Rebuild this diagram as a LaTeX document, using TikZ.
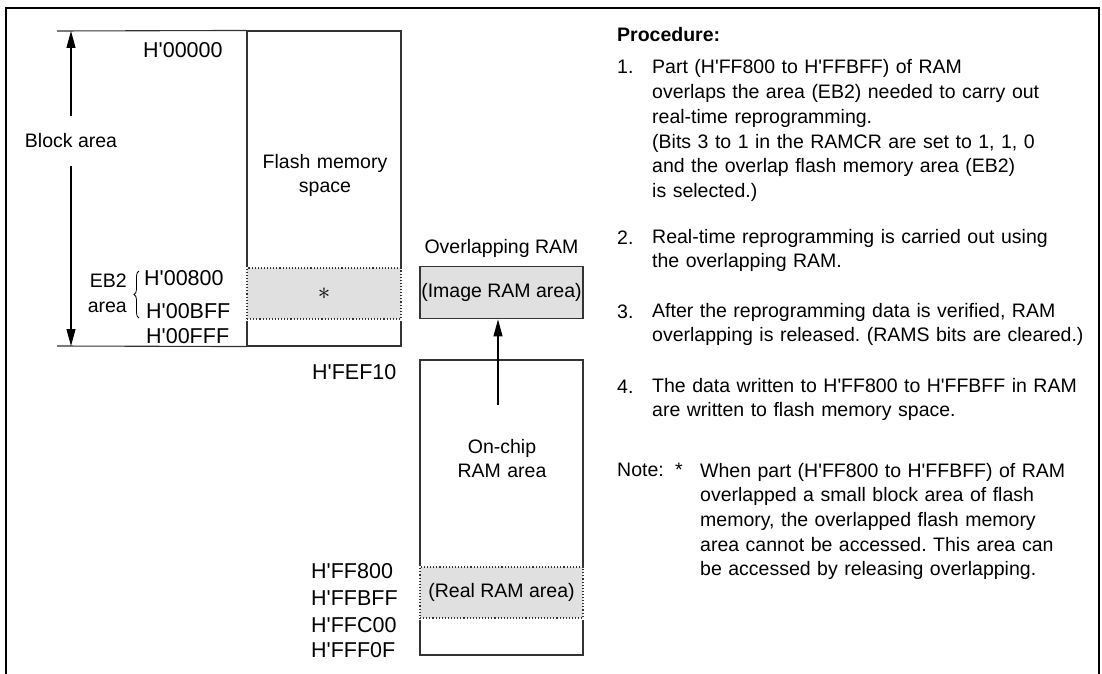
\documentclass[tikz,border=0pt]{standalone}
\usepackage{fontspec}
\setmainfont{Liberation Sans}
\usepackage{tikz}
\usetikzlibrary{arrows.meta, positioning, decorations.pathreplacing}
\definecolor{areagray}{HTML}{E0E0E0}
\definecolor{lineclr}{HTML}{333333}
\newcommand{\haddr}[1]{H\textquotesingle#1}
\frenchspacing
\tikzset{
  mem/.style={rectangle, draw=lineclr, line width=1.1pt, inner sep=0pt, font=\fontsize{19.5}{24.6}\selectfont},
  overlap/.style={rectangle, draw=lineclr, dotted, line width=1.1pt, fill=areagray, inner sep=0pt, font=\fontsize{19.5}{24.6}\selectfont, preaction={draw=white, solid, line width=3pt}},
  memline/.style={draw=lineclr, line width=1.1pt},
  lbl/.style={inner sep=0pt, font=\fontsize{19.5}{24.6}\selectfont},
  addr/.style={inner sep=0pt, anchor=base west, font=\fontsize{21.5}{26}\selectfont},
  proctext/.style={inner sep=0pt, anchor=base west, text width=440pt, align=left, font=\fontsize{19.5}{24.7}\selectfont},
  arr/.style={-{Triangle[length=17pt, width=9pt]}, line width=1.1pt, black},
  brc/.style={decorate, decoration={brace, amplitude=5pt}, line width=0.8pt},
}
\begin{document}
\begin{tikzpicture}[x=1pt, y=-1pt]
\useasboundingbox (0,0) rectangle (1102,674);
% frame, open at the bottom
\draw[line width=2.2pt] (6,674) -- (6,8) -- (1099,8) -- (1099,674);

% flash memory space
\node[mem, minimum width=154pt, minimum height=315pt] (flash) at (324,188.5) {};
\coordinate (tl) at (57,31);
\coordinate (bl) at (57,346);
\draw[memline] (tl) -- (flash.north west);
\draw[memline] (bl) -- (flash.south west);
\node[overlap, minimum width=154pt, minimum height=51pt] (eb2) at (324,293.5) {\fontsize{23}{23}\selectfont$\ast$};
\node[lbl, text width=150pt, align=center, anchor=base] (flashlbl) at (325,168) {Flash memory\\space};

\node[lbl, minimum height=50pt] (blk) at (71,141) {Block area};
\draw[arr] (blk.north) -- (blk.north |- tl);
\draw[arr] (blk.south) -- (blk.south |- bl);

\node[lbl, anchor=base east] (eb2a) at (127,287) {EB2};
\node[lbl, anchor=base east] (eb2b) at (127,312) {area};
\draw[brc] (139,318) -- (139,271);

\node[addr] (a0) at (143,58) {\haddr{00000}};
\node[addr] (a1) at (144,285) {\haddr{00800}};
\node[addr] (a2) at (146,318) {\haddr{00BFF}};
\node[addr] (a3) at (146,343) {\haddr{00FFF}};

% on-chip RAM
\node[mem, minimum width=163pt, minimum height=295pt] (onchip) at (501.5,507.5) {};
\node[overlap, minimum width=163pt, minimum height=51pt] (realram) at (501.5,592.5) {(Real RAM area)};
\node[lbl, text width=150pt, align=center, anchor=base] (onchiplbl) at (502,453) {On-chip\\RAM area};
\node[mem, fill=areagray, minimum width=163pt, minimum height=52pt, above=40pt of onchip] (img) {(Image RAM area)};
\node[lbl, above=9pt of img] (ovl) {Overlapping RAM};
\coordinate (src) at (498,405);
\draw[arr] (src) -- (src |- img.south);

\node[addr] (b0) at (312,379) {\haddr{FEF10}};
\node[addr] (b1) at (311,578) {\haddr{FF800}};
\node[addr] (b2) at (311,605) {\haddr{FFBFF}};
\node[addr] (b3) at (311,632) {\haddr{FFC00}};
\node[addr] (b4) at (311,657) {\haddr{FFF0F}};

% procedure
\node[proctext] (ttl) at (617,42) {\textbf{Procedure:}};
\node[proctext, text width=30pt] (n1) at (617,74) {1.};
\node[proctext] (p1) at (652,74) {Part (\haddr{FF800} to \haddr{FFBFF}) of RAM\\overlaps the area (EB2) needed to carry out\\real-time reprogramming.\\(Bits 3 to 1 in the RAMCR are set to 1, 1, 0\\and the overlap flash memory area (EB2)\\is selected.)};
\node[proctext, text width=30pt] (n2) at (617,244) {2.};
\node[proctext] (p2) at (652,243) {Real-time reprogramming is carried out using\\the overlapping RAM.};
\node[proctext, text width=30pt] (n3) at (617,318) {3.};
\node[proctext] (p3) at (652,317) {After the reprogramming data is verified, RAM\\overlapping is released. (RAMS bits are cleared.)};
\node[proctext, text width=30pt] (n4) at (617,393) {4.};
\node[proctext] (p4) at (652,392) {The data written to \haddr{FF800} to \haddr{FFBFF} in RAM\\are written to flash memory space.};
\node[proctext, text width=60pt] (nt) at (617,476) {Note:};
\node[proctext, text width=20pt] (ast) at (675,476) {*};
\node[proctext] (p5) at (700,477) {When part (\haddr{FF800} to \haddr{FFBFF}) of RAM\\overlapped a small block area of flash\\memory, the overlapped flash memory\\area cannot be accessed. This area can\\be accessed by releasing overlapping.};
\end{tikzpicture}
\end{document}
